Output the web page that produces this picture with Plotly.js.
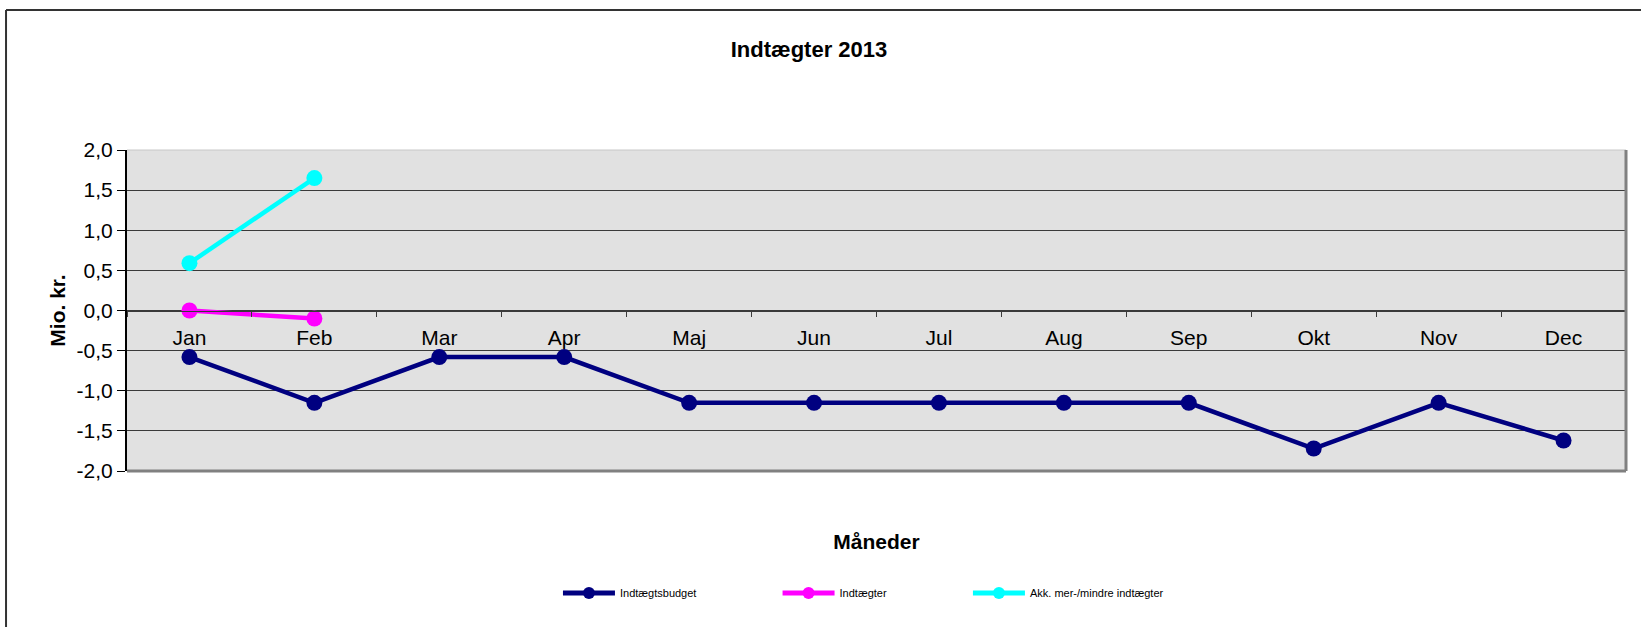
<!DOCTYPE html>
<html>
<head>
<meta charset="utf-8">
<script src="https://cdn.plot.ly/plotly-3.0.1.min.js"></script>
<style>
html,body{margin:0;padding:0;background:#fff;}
#chart{width:1641px;height:627px;}
</style>
</head>
<body>
<div id="chart"></div>
<script>
// ---- data ----
const months = ['Jan','Feb','Mar','Apr','Maj','Jun','Jul','Aug','Sep','Okt','Nov','Dec'];
const budgetValues = [-0.58,-1.15,-0.58,-0.58,-1.15,-1.15,-1.15,-1.15,-1.15,-1.72,-1.15,-1.62];
const incomeMonths = ['Jan','Feb'];
const incomeValues = [0.0,-0.10];
const accMonths = ['Jan','Feb'];
const accValues = [0.59,1.65];
const yTickVals = [-2,-1.5,-1,-0.5,0,0.5,1,1.5,2];
const yTickText = ['-2,0','-1,5','-1,0','-0,5','0,0','0,5','1,0','1,5','2,0'];
const seriesNames = ['Indtægtsbudget','Indtægter','Akk. mer-/mindre indtægter'];

const FONT = 'Liberation Sans, Arial, sans-serif';

const traces = [
  {x: months, y: budgetValues, name: seriesNames[0], type:'scatter', mode:'lines+markers',
   line:{color:'#000080', width:4.5}, marker:{color:'#000080', size:16}, legend:'legend', showlegend:true},
  {x: incomeMonths, y: incomeValues, name: seriesNames[1], type:'scatter', mode:'lines+markers',
   line:{color:'#FF00FF', width:4.5}, marker:{color:'#FF00FF', size:16}, legend:'legend2', showlegend:true},
  {x: accMonths, y: accValues, name: seriesNames[2], type:'scatter', mode:'lines+markers',
   line:{color:'#00FFFF', width:4.5}, marker:{color:'#00FFFF', size:16}, legend:'legend3', showlegend:true}
];

const legendBase = {orientation:'h', xanchor:'left', yanchor:'middle', y:-0.38, visible:true,
  bgcolor:'rgba(0,0,0,0)', font:{family:FONT, size:11, color:'#000'}, itemwidth:52, itemsizing:'constant'};

const layout = {
  width:1641, height:627,
  margin:{l:127, r:15, t:150, b:156},
  paper_bgcolor:'#ffffff',
  plot_bgcolor:'#e1e1e1',
  separators:',.',
  hovermode:false,
  showlegend:true,
  font:{family:FONT, color:'#000'},
  title:{text:'Indtægter 2013', xref:'container', x:0.493, xanchor:'center',
         yref:'container', y:0.922, yanchor:'middle',
         font:{family:FONT, size:22, weight:'bold', color:'#000'}},
  xaxis:{type:'category', categoryarray:months, range:[-0.5,11.5],
         anchor:'free', position:0.5,
         showline:true, linecolor:'#3a3a3a', linewidth:1,
         showgrid:false, zeroline:false,
         ticks:'outside', tickson:'boundaries', ticklen:5, tickcolor:'#3a3a3a',
         tickfont:{family:FONT, size:21, color:'#000'}, ticklabelstandoff:8,
         title:{text:'Måneder', standoff:186, font:{family:FONT, size:21, weight:'bold', color:'#000'}},
         automargin:false, fixedrange:true},
  yaxis:{range:[-2,2], tickvals:yTickVals, ticktext:yTickText,
         showline:true, linecolor:'#000', linewidth:2,
         showgrid:true, gridcolor:'#3a3a3a', gridwidth:1,
         zeroline:false,
         ticks:'outside', ticklen:8, tickcolor:'#000',
         tickfont:{family:FONT, size:21, color:'#000'},
         title:{text:'Mio. kr.', standoff:5, font:{family:FONT, size:21, weight:'bold', color:'#000'}},
         automargin:false, fixedrange:true},
  legend: Object.assign({}, legendBase, {x:0.2875}),
  legend2: Object.assign({}, legendBase, {x:0.434}),
  legend3: Object.assign({}, legendBase, {x:0.561}),
  shapes:[
    {type:'line', xref:'paper', yref:'paper', x0:0, x1:1, y0:1, y1:1, line:{color:'#c8c8c8', width:1}, layer:'above'},
    {type:'line', xref:'paper', yref:'paper', x0:1, x1:1, y0:0, y1:1, line:{color:'#808080', width:3}, layer:'above'},
    {type:'line', xref:'paper', yref:'paper', x0:0, x1:1, y0:0, y1:0, line:{color:'#808080', width:3}, layer:'above'},
    {type:'line', xref:'paper', yref:'paper', x0:-0.0807, x1:-0.0807, y0:1.436, y1:-0.5, line:{color:'#333', width:2}, layer:'above'},
    {type:'line', xref:'paper', yref:'paper', x0:-0.0807, x1:1.02, y0:1.436, y1:1.436, line:{color:'#333', width:2}, layer:'above'}
  ]
};

Plotly.newPlot('chart', traces, layout, {displayModeBar:false, staticPlot:true});
</script>
</body>
</html>
